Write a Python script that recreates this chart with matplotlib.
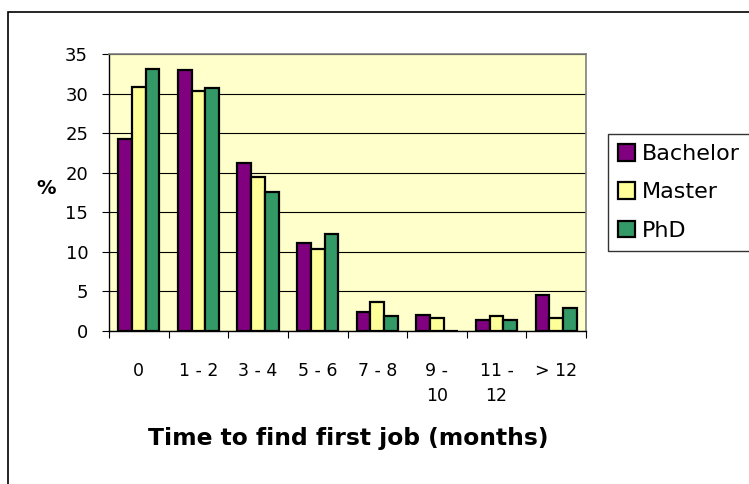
import numpy as np
import matplotlib
matplotlib.use("Agg")
import matplotlib.pyplot as plt
from matplotlib.patches import Rectangle

plt.rcParams['font.family'] = ['DejaVu Sans']

# Datos
categories = ["0", "1 - 2", "3 - 4", "5 - 6", "7 - 8", "9 -\n10", "11 -\n12", "> 12"]
bachelor = [24.2, 33.0, 21.2, 11.1, 2.4, 2.0, 1.4, 4.5]
master = [30.8, 30.3, 19.4, 10.3, 3.7, 1.7, 1.9, 1.7]
phd = [33.1, 30.7, 17.6, 12.2, 1.9, 0.0, 1.4, 2.9]

series = [("Bachelor", bachelor, "#800080"),
          ("Master", master, "#FFFF99"),
          ("PhD", phd, "#339966")]

W, H = 749, 484
fig = plt.figure(figsize=(W / 100, H / 100), dpi=100)

# marco exterior
fig.patches.append(Rectangle((8 / W, -0.1), 1.2, 1 - 12 / H + 0.1,
                             transform=fig.transFigure, fill=False,
                             edgecolor="black", linewidth=1.2))

ax = fig.add_axes([109 / W, 1 - 331 / H, 477 / W, 277 / H])
ax.set_facecolor("#FFFFCC")

x = np.arange(len(categories))
bw = 0.23
for i, (name, vals, col) in enumerate(series):
    ax.bar(x + (i - 1) * bw, vals, width=bw, color=col, edgecolor="black",
           linewidth=1.6, label=name, zorder=3)

ax.set_xlim(-0.5, len(categories) - 0.5)
ax.set_ylim(0, 35)
ax.set_yticks(np.arange(0, 36, 5))
ax.yaxis.grid(True, color="black", linewidth=0.8, zorder=1)
ax.set_axisbelow(True)

# ticks en los limites de categoria
ax.set_xticks(np.arange(-0.5, len(categories), 1.0))
ax.set_xticklabels([])
ax.set_xticks(x, minor=True)
ax.set_xticklabels(categories, minor=True, fontsize=12.5, linespacing=1.5, va="top")
ax.tick_params(axis="x", which="minor", length=0, pad=22)
ax.tick_params(axis="x", which="major", length=5, direction="out", color="black")
ax.tick_params(axis="y", length=5, direction="out", labelsize=13, pad=10)

for s in ["top", "right"]:
    ax.spines[s].set_color("#808080")
    ax.spines[s].set_linewidth(1.2)
for s in ["left", "bottom"]:
    ax.spines[s].set_color("black")
    ax.spines[s].set_linewidth(1.0)

fig.text(46 / W, 1 - 189 / H, "%", fontsize=14, fontweight="bold",
         ha="center", va="center")
fig.text(348 / W, 1 - 439 / H, "Time to find first job (months)", fontsize=16.8,
         fontweight="bold", ha="center", va="center")

leg = ax.legend(loc="upper left", bbox_to_anchor=(608 / W, 1 - 134 / H),
                bbox_transform=fig.transFigure, frameon=True, fancybox=False,
                fontsize=16, handlelength=0.78, handleheight=0.78,
                handletextpad=0.3, labelspacing=0.82, borderpad=0.45,
                borderaxespad=0)
leg.get_frame().set_edgecolor("black")
leg.get_frame().set_linewidth(1.0)
for h in leg.legend_handles:
    h.set_linewidth(1.6)

fig.savefig("out.png", dpi=100)
